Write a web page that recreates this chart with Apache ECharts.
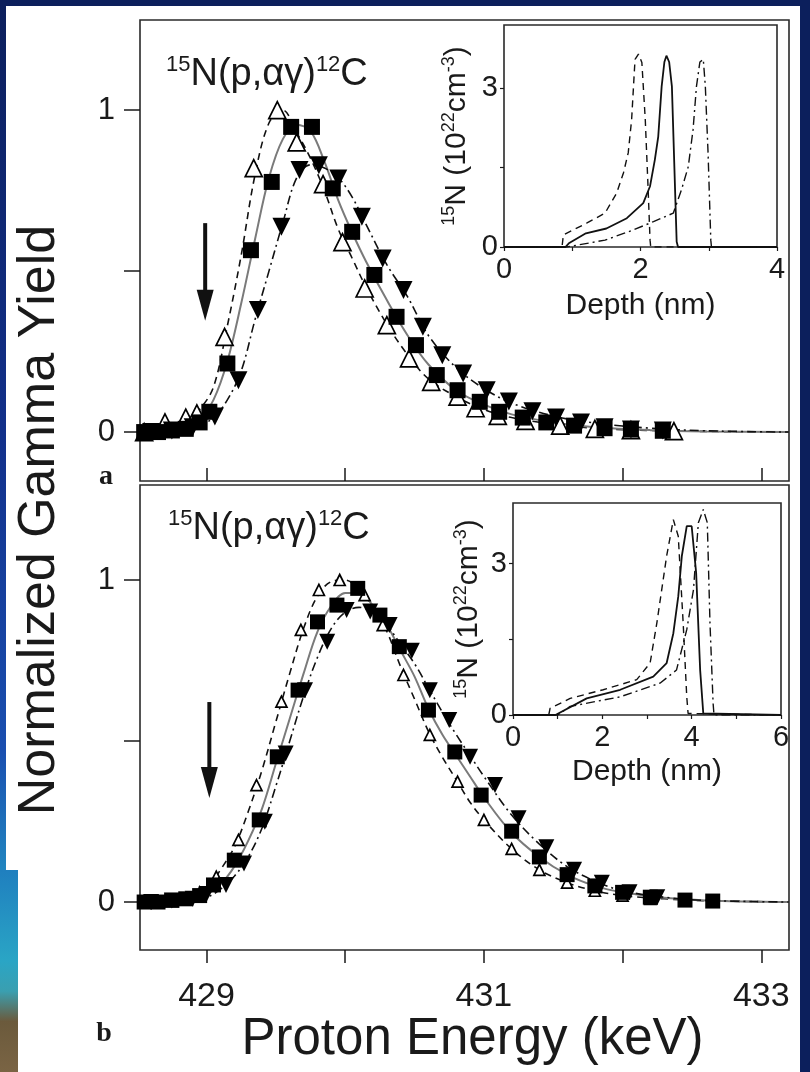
<!DOCTYPE html>
<html><head><meta charset="utf-8">
<script src="https://cdn.jsdelivr.net/npm/echarts@6/dist/echarts.min.js"></script>
<style>
html,body{margin:0;padding:0;}
body{width:810px;height:1072px;background:#0c1f5c;position:relative;overflow:hidden;}
#strip{position:absolute;left:0;top:0;width:20px;height:1072px;background:linear-gradient(to bottom,#0c1f5c 0%,#12308a 40%,#1a4fb0 70%,#2394c4 84%,#2aa5c5 90%,#6b5a3c 94%,#7a6444 100%);}
#panel{position:absolute;left:6px;top:6px;width:794px;height:1066px;background:#fff;}
#corner{position:absolute;left:0;top:870px;width:18px;height:202px;background:linear-gradient(to bottom,#1f7fbf 0%,#2aa5c5 45%,#3a9fb0 60%,#6b5a3c 75%,#7a6444 100%);}
#chart{position:absolute;left:0;top:0;width:810px;height:1072px;}
</style></head><body>
<div id="strip"></div><div id="panel"></div><div id="corner"></div><div id="chart"></div>
<script>
// ---------- Panel a: measured yields (energy keV, normalized yield) ----------
const aTriE = [428.55, 428.7, 428.85, 428.93, 429.13, 429.34, 429.51, 429.65, 429.84, 429.98, 430.14, 430.3, 430.46, 430.62, 430.81, 430.94, 431.1, 431.3, 431.55, 431.8, 432.06, 432.37];
const aTriY = [0.0, 0.03, 0.045, 0.058, 0.296, 0.82, 1.0, 0.90, 0.77, 0.59, 0.446, 0.332, 0.229, 0.156, 0.11, 0.074, 0.05, 0.035, 0.02, 0.01, 0.006, 0.003];
const aSqE = [428.55, 428.65, 428.75, 428.85, 428.95, 429.02, 429.15, 429.32, 429.47, 429.61, 429.76, 429.91, 430.05, 430.21, 430.37, 430.51, 430.66, 430.81, 430.97, 431.11, 431.28, 431.45, 431.65, 431.87, 432.06, 432.29];
const aSqY = [0, 0.0, 0.005, 0.01, 0.03, 0.063, 0.213, 0.565, 0.777, 0.948, 0.948, 0.757, 0.622, 0.488, 0.358, 0.27, 0.177, 0.13, 0.094, 0.063, 0.045, 0.03, 0.02, 0.012, 0.008, 0.004];
const aDnE = [428.6, 428.75, 428.9, 429.06, 429.23, 429.37, 429.54, 429.67, 429.81, 429.95, 430.12, 430.27, 430.42, 430.56, 430.7, 430.85, 431.02, 431.18, 431.35, 431.52, 431.7, 431.87, 432.06, 432.29];
const aDnY = [0, 0.005, 0.015, 0.048, 0.161, 0.379, 0.638, 0.814, 0.829, 0.788, 0.669, 0.539, 0.441, 0.327, 0.239, 0.182, 0.13, 0.095, 0.065, 0.045, 0.03, 0.015, 0.008, 0.005];
// Panel a: fitted curves
const aFitE = [428.52, 428.7, 428.85, 428.95, 429.05, 429.15, 429.25, 429.35, 429.45, 429.55, 429.65, 429.75, 429.85, 429.95, 430.05, 430.15, 430.3, 430.45, 430.6, 430.8, 431.0, 431.2, 431.5, 431.8, 432.2, 432.6, 433.2];
const aFitDash = [0, 0.01, 0.03, 0.07, 0.14, 0.33, 0.55, 0.8, 0.96, 1.0, 0.93, 0.85, 0.75, 0.63, 0.54, 0.45, 0.335, 0.24, 0.165, 0.11, 0.07, 0.045, 0.025, 0.012, 0.005, 0.002, 0];
const aFitSolid = [0, 0.005, 0.02, 0.04, 0.1, 0.22, 0.4, 0.6, 0.79, 0.91, 0.955, 0.935, 0.84, 0.72, 0.62, 0.53, 0.41, 0.3, 0.21, 0.13, 0.085, 0.055, 0.03, 0.015, 0.006, 0.002, 0];
const aFitDot = [0, 0.003, 0.008, 0.02, 0.045, 0.1, 0.19, 0.35, 0.5, 0.65, 0.79, 0.83, 0.82, 0.79, 0.73, 0.645, 0.52, 0.42, 0.3, 0.2, 0.135, 0.09, 0.05, 0.028, 0.012, 0.004, 0];
const aArrowShaft = [[428.99, 0.649], [428.99, 0.43]];
const aArrowHead = [[428.99, 0.394]];

// ---------- Panel b ----------
const bTriE = [428.55, 428.7, 428.85, 428.95, 429.07, 429.23, 429.36, 429.54, 429.68, 429.81, 429.96, 430.14, 430.27, 430.42, 430.61, 430.81, 431.0, 431.2, 431.4, 431.6, 431.8, 432.0, 432.2, 432.45];
const bTriY = [0, 0.005, 0.01, 0.03, 0.079, 0.193, 0.363, 0.622, 0.845, 0.969, 1.0, 0.953, 0.86, 0.705, 0.519, 0.374, 0.255, 0.165, 0.1, 0.06, 0.035, 0.02, 0.01, 0.004];
const bSqE = [428.55, 428.65, 428.75, 428.85, 428.95, 429.05, 429.2, 429.38, 429.51, 429.66, 429.8, 429.94, 430.09, 430.25, 430.39, 430.6, 430.79, 430.98, 431.2, 431.4, 431.6, 431.8, 432.0, 432.2, 432.45, 432.65];
const bSqY = [0, 0.0, 0.005, 0.01, 0.02, 0.053, 0.13, 0.255, 0.451, 0.658, 0.87, 0.922, 0.974, 0.891, 0.793, 0.596, 0.466, 0.332, 0.22, 0.14, 0.085, 0.05, 0.03, 0.015, 0.006, 0.003];
const bDnE = [428.6, 428.75, 428.9, 429.0, 429.14, 429.27, 429.42, 429.57, 429.71, 429.87, 430.01, 430.18, 430.32, 430.48, 430.61, 430.75, 430.9, 431.08, 431.25, 431.45, 431.65, 431.85, 432.05, 432.25];
const bDnY = [0, 0.005, 0.01, 0.025, 0.053, 0.12, 0.249, 0.461, 0.658, 0.808, 0.907, 0.902, 0.86, 0.78, 0.658, 0.565, 0.451, 0.363, 0.26, 0.17, 0.1, 0.06, 0.03, 0.015];
const bFitE = [428.52, 428.8, 429.0, 429.1, 429.2, 429.3, 429.4, 429.5, 429.6, 429.7, 429.8, 429.9, 430.0, 430.1, 430.2, 430.3, 430.4, 430.5, 430.6, 430.7, 430.8, 430.9, 431.0, 431.2, 431.4, 431.6, 431.8, 432.0, 432.3, 432.6, 433.2];
const bFitDash = [0, 0.01, 0.04, 0.1, 0.17, 0.28, 0.41, 0.56, 0.71, 0.85, 0.95, 0.995, 1.0, 0.97, 0.915, 0.84, 0.73, 0.63, 0.53, 0.45, 0.38, 0.31, 0.255, 0.165, 0.1, 0.06, 0.035, 0.02, 0.01, 0.004, 0];
const bFitSolid = [0, 0.005, 0.025, 0.055, 0.11, 0.19, 0.29, 0.43, 0.57, 0.71, 0.84, 0.92, 0.96, 0.96, 0.92, 0.86, 0.78, 0.7, 0.6, 0.52, 0.455, 0.39, 0.325, 0.215, 0.14, 0.085, 0.05, 0.03, 0.013, 0.005, 0];
const bFitDot = [0, 0.004, 0.015, 0.04, 0.08, 0.14, 0.23, 0.36, 0.5, 0.64, 0.76, 0.85, 0.9, 0.915, 0.9, 0.86, 0.8, 0.74, 0.665, 0.59, 0.52, 0.455, 0.39, 0.27, 0.18, 0.11, 0.065, 0.035, 0.015, 0.005, 0];
const bArrowShaft = [[429.02, 0.621], [429.02, 0.405]];
const bArrowHead = [[429.02, 0.371]];

// ---------- Insets: depth (nm) vs 15N (1e22 cm^-3) ----------
const insASolid = [[0,0],[0.9,0],[0.95,0.07],[1.2,0.26],[1.5,0.35],[1.8,0.545],[2.04,0.83],[2.14,1.15],[2.21,1.65],[2.26,2.09],[2.31,3.04],[2.35,3.5],[2.38,3.62],[2.42,3.5],[2.46,3.04],[2.49,1.78],[2.53,0.1],[2.55,0],[4,0]];
const insADash = [[0,0],[0.85,0],[0.87,0.23],[1.21,0.45],[1.48,0.64],[1.65,1.02],[1.75,1.4],[1.82,1.78],[1.87,2.41],[1.92,3.55],[1.97,3.65],[2.02,3.49],[2.07,2.41],[2.11,1.15],[2.14,0.13],[2.15,0],[4,0]];
const insADot = [[0,0],[0.92,0],[1.48,0.13],[1.89,0.32],[2.19,0.48],[2.48,0.64],[2.6,1.08],[2.7,1.52],[2.77,2.22],[2.82,3.04],[2.87,3.5],[2.92,3.55],[2.95,3.04],[2.99,1.78],[3.03,0.13],[3.04,0],[4,0]];
const insBSolid = [[0,0],[0.95,0],[0.98,0.03],[1.65,0.33],[2.4,0.5],[3.14,0.76],[3.44,1.03],[3.59,1.62],[3.7,2.35],[3.78,3.15],[3.89,3.74],[4.0,3.74],[4.1,2.82],[4.19,0.89],[4.26,0.03],[4.3,0],[6,0]];
const insBDash = [[0,0],[0.8,0],[0.83,0.13],[1.28,0.33],[2.02,0.5],[2.77,0.7],[3.07,1.03],[3.22,1.82],[3.44,3.15],[3.59,3.87],[3.7,3.54],[3.81,1.82],[3.89,0.36],[3.92,0.03],[3.95,0],[6,0]];
const insBDot = [[0,0],[1.0,0],[1.28,0.17],[2.4,0.36],[3.29,0.63],[3.66,0.89],[3.89,1.69],[4.04,2.48],[4.15,3.81],[4.26,4.07],[4.35,3.81],[4.41,1.82],[4.48,0.23],[4.5,0],[6,0]];

// tick labels
const energyTicks = [429, 430, 431, 432, 433];
const energyLabels = [429, 431, 433];
const yieldTicks = [0, 0.5, 1];
const yieldLabels = [0, 1];
const insYTicks = [0, 1.5, 3];
const insYLabels = [0, 3];
const insAXTicks = [0, 1, 2, 3, 4];
const insAXLabels = [0, 2, 4];
const insBXTicks = [0, 1, 2, 3, 4, 5, 6];
const insBXLabels = [0, 2, 4, 6];

const FONT = 'Liberation Sans, Arial, sans-serif';
const INK = '#1a1a1a';
const zip = (xs, ys) => xs.map((x, i) => [x, ys[i]]);

const chart = echarts.init(document.getElementById('chart'), null, {renderer: 'canvas'});

function mainX(idx, isBottom) {
  return {
    type: 'value', gridIndex: idx, min: 428.52, max: 433.2,
    axisLine: {show: false, onZero: false}, splitLine: {show: false},
    axisTick: {show: true, inside: !isBottom, length: 13, customValues: energyTicks, lineStyle: {color: INK, width: 1.5}},
    axisLabel: {show: isBottom, customValues: energyLabels, fontSize: 34, fontFamily: FONT, color: INK, margin: 30},
    name: isBottom ? 'Proton Energy (keV)' : '',
    nameLocation: 'middle', nameGap: 54,
    nameTextStyle: {fontSize: 51, fontFamily: FONT, color: INK, padding: [0, 0, 0, 16]}
  };
}
function mainY(idx, mn, mx) {
  return {
    type: 'value', gridIndex: idx, min: mn, max: mx,
    axisLine: {show: false, onZero: false}, splitLine: {show: false},
    axisTick: {show: true, inside: false, length: 16, customValues: yieldTicks, lineStyle: {color: INK, width: 1.5}},
    axisLabel: {customValues: yieldLabels, fontSize: 31, fontFamily: FONT, color: INK, margin: 25}
  };
}
const insRich = {
  m: {fontSize: 30, fontFamily: FONT, color: INK, lineHeight: 34, fontWeight: 'normal'},
  s: {fontSize: 18, fontFamily: FONT, color: INK, lineHeight: 18, verticalAlign: 'top', fontWeight: 'normal'}
};
function insX(idx, mx, ticks, labels, gap) {
  return {
    type: 'value', gridIndex: idx, min: 0, max: mx,
    axisLine: {show: false, onZero: false}, splitLine: {show: false},
    axisTick: {show: true, inside: false, length: 4, customValues: ticks, lineStyle: {color: INK, width: 1.2}},
    axisLabel: {customValues: labels, fontSize: 29, fontFamily: FONT, color: INK, margin: 8},
    name: 'Depth (nm)', nameLocation: 'middle', nameGap: gap,
    nameTextStyle: {fontSize: 30, fontFamily: FONT, color: INK}
  };
}
function insY(idx, gap) {
  return {
    type: 'value', gridIndex: idx, min: 0, max: 4.2,
    axisLine: {show: false, onZero: false}, splitLine: {show: false},
    axisTick: {show: true, inside: false, length: 4, customValues: insYTicks, lineStyle: {color: INK, width: 1.2}},
    axisLabel: {customValues: insYLabels, fontSize: 29, fontFamily: FONT, color: INK, margin: 6},
    name: '{s|15}{m|N (10}{s|22}{m|cm}{s|-3}{m|)}', nameLocation: 'middle', nameGap: gap, nameRotate: 90,
    nameTextStyle: {rich: insRich}
  };
}
function fitLine(xi, data, kind) {
  const style = kind === 'solid' ? {color: '#7a7a7a', width: 2, type: 'solid'}
    : kind === 'dash' ? {color: '#111', width: 1.6, type: [7, 5]}
    : {color: '#111', width: 1.6, type: [9, 4, 2, 4]};
  return {type: 'line', xAxisIndex: xi, yAxisIndex: xi, data: data, showSymbol: false, smooth: 0.35,
    lineStyle: style, z: 2, silent: true};
}
function marks(xi, data, kind, size) {
  const s = {type: 'scatter', xAxisIndex: xi, yAxisIndex: xi, data: data, symbolSize: size, z: 5, silent: true};
  if (kind === 'tri') { s.symbol = 'triangle'; s.itemStyle = {color: '#fff', borderColor: '#000', borderWidth: 1.7, opacity: 1}; }
  if (kind === 'sq') { s.symbol = 'rect'; s.itemStyle = {color: '#000', opacity: 1}; }
  if (kind === 'dn') { s.symbol = 'triangle'; s.symbolRotate = 180; s.itemStyle = {color: '#000', opacity: 1}; }
  return s;
}
function insLine(xi, data, kind) {
  const style = kind === 'solid' ? {color: '#111', width: 1.8, type: 'solid'}
    : kind === 'dash' ? {color: '#111', width: 1.4, type: [7, 5]}
    : {color: '#111', width: 1.4, type: [9, 4, 2, 4]};
  return {type: 'line', xAxisIndex: xi, yAxisIndex: xi, data: data, showSymbol: false, lineStyle: style, z: 3, silent: true};
}
function arrow(xi, shaft, head) {
  return [
    {type: 'line', xAxisIndex: xi, yAxisIndex: xi, data: shaft, showSymbol: false, lineStyle: {color: '#111', width: 4}, z: 6, silent: true},
    {type: 'scatter', xAxisIndex: xi, yAxisIndex: xi, data: head, symbol: 'triangle', symbolRotate: 180, symbolSize: [17, 31], itemStyle: {color: '#111', opacity: 1}, z: 6, silent: true}
  ];
}
const gridStyle = {show: true, borderColor: '#2a2a2a', borderWidth: 1.6, backgroundColor: 'transparent'};
const titleRich = {
  m: {fontSize: 38, fontFamily: FONT, color: INK, lineHeight: 42, fontWeight: 'normal'},
  s: {fontSize: 22, fontFamily: FONT, color: INK, lineHeight: 22, verticalAlign: 'top', fontWeight: 'normal'}
};
const titleText = '{s|15}{m|N(p,αγ)}{s|12}{m|C}';

chart.setOption({
  animation: false,
  backgroundColor: 'transparent',
  title: [
    {text: titleText, left: 166, top: 54, padding: 0, textStyle: {fontWeight: 'normal', rich: titleRich}},
    {text: titleText, left: 168, top: 508, padding: 0, textStyle: {fontWeight: 'normal', rich: titleRich}}
  ],
  grid: [
    Object.assign({left: 140, top: 20, width: 649, height: 461}, gridStyle),
    Object.assign({left: 140, top: 485, width: 649, height: 465}, gridStyle),
    Object.assign({left: 504, top: 25, width: 273, height: 222}, gridStyle),
    Object.assign({left: 513, top: 503, width: 268, height: 212}, gridStyle)
  ],
  xAxis: [mainX(0, false), mainX(1, true), insX(2, 4, insAXTicks, insAXLabels, 44), insX(3, 6, insBXTicks, insBXLabels, 42)],
  yAxis: [mainY(0, -0.152, 1.28), mainY(1, -0.149, 1.295), insY(2, 30), insY(3, 27)],
  graphic: [
    {type: 'text', x: 40, y: 520, rotation: Math.PI / 2,
      style: {text: 'Normalized Gamma Yield', font: '52px ' + FONT, fill: INK, align: 'center', verticalAlign: 'middle', textAlign: 'center', textVerticalAlign: 'middle'}},
    {type: 'text', x: 106, y: 477,
      style: {text: 'a', font: 'bold 28px Liberation Serif, serif', fill: INK, align: 'center', verticalAlign: 'middle', textAlign: 'center', textVerticalAlign: 'middle'}},
    {type: 'text', x: 104, y: 1034,
      style: {text: 'b', font: 'bold 28px Liberation Serif, serif', fill: INK, align: 'center', verticalAlign: 'middle', textAlign: 'center', textVerticalAlign: 'middle'}}
  ],
  series: [
    fitLine(0, zip(aFitE, aFitDash), 'dash'),
    fitLine(0, zip(aFitE, aFitSolid), 'solid'),
    fitLine(0, zip(aFitE, aFitDot), 'dot'),
    marks(0, zip(aTriE, aTriY), 'tri', 17),
    marks(0, zip(aSqE, aSqY), 'sq', 16),
    marks(0, zip(aDnE, aDnY), 'dn', 18),
    ...arrow(0, aArrowShaft, aArrowHead),
    fitLine(1, zip(bFitE, bFitDash), 'dash'),
    fitLine(1, zip(bFitE, bFitSolid), 'solid'),
    fitLine(1, zip(bFitE, bFitDot), 'dot'),
    marks(1, zip(bTriE, bTriY), 'tri', 11),
    marks(1, zip(bSqE, bSqY), 'sq', 15),
    marks(1, zip(bDnE, bDnY), 'dn', 16),
    ...arrow(1, bArrowShaft, bArrowHead),
    insLine(2, insASolid, 'solid'), insLine(2, insADash, 'dash'), insLine(2, insADot, 'dot'),
    insLine(3, insBSolid, 'solid'), insLine(3, insBDash, 'dash'), insLine(3, insBDot, 'dot')
  ]
});
</script></body></html>
